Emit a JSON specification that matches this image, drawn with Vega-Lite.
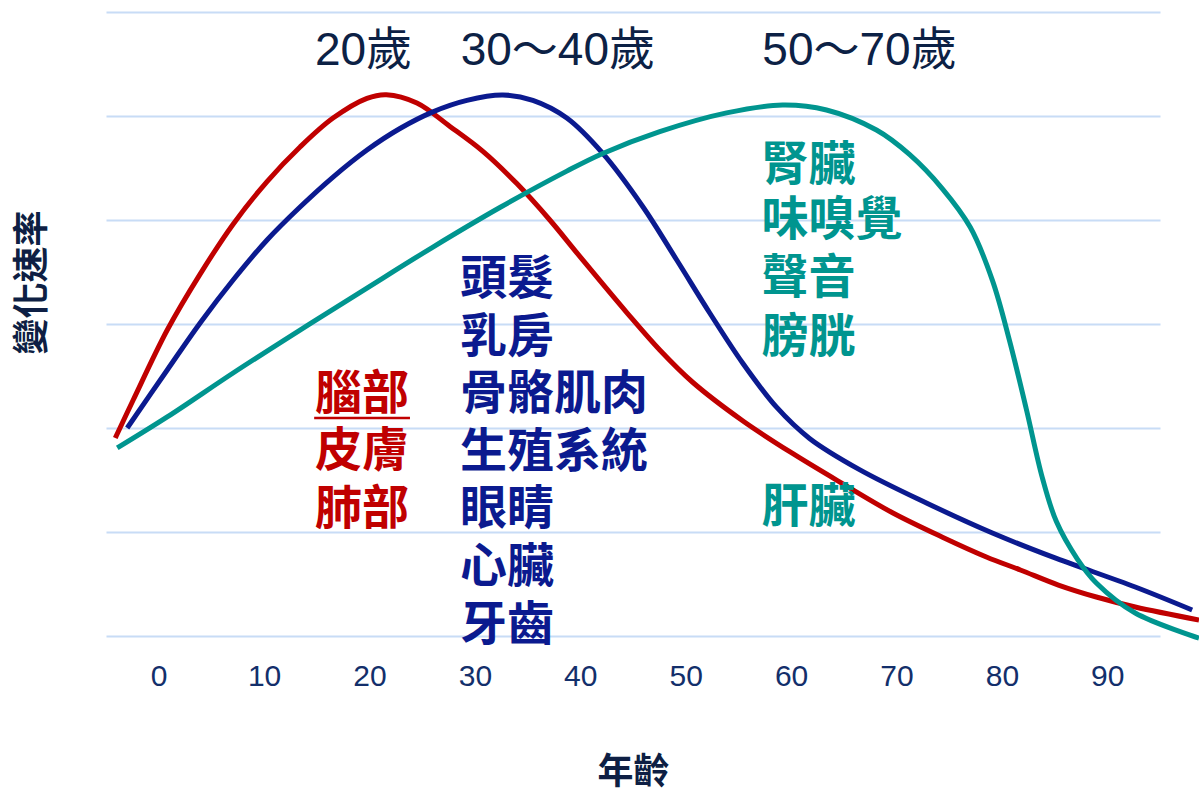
{
  "$schema": "https://vega.github.io/schema/vega-lite/v6.json",
  "width": 1054,
  "height": 624,
  "autosize": {"type": "none"},
  "padding": {"left": 106, "top": 12, "right": 39, "bottom": 152},
  "background": "white",
  "config": {"view": {"stroke": null}, "font": "Noto Sans CJK TC"},
  "datasets": {
    "curves": [
      {"group": "brain", "age": -4.12, "rate": 1.904},
      {"group": "brain", "age": -2.42, "rate": 2.269},
      {"group": "brain", "age": 0.81, "rate": 2.942},
      {"group": "brain", "age": 3.93, "rate": 3.48},
      {"group": "brain", "age": 7.06, "rate": 3.96},
      {"group": "brain", "age": 10.28, "rate": 4.37},
      {"group": "brain", "age": 13.41, "rate": 4.702},
      {"group": "brain", "age": 16.54, "rate": 4.98},
      {"group": "brain", "age": 19.76, "rate": 5.17},
      {"group": "brain", "age": 21.6, "rate": 5.205},
      {"group": "brain", "age": 24.5, "rate": 5.125},
      {"group": "brain", "age": 27.63, "rate": 4.9},
      {"group": "brain", "age": 30.76, "rate": 4.66},
      {"group": "brain", "age": 33.98, "rate": 4.35},
      {"group": "brain", "age": 37.11, "rate": 4.0},
      {"group": "brain", "age": 39.95, "rate": 3.65},
      {"group": "brain", "age": 44.41, "rate": 3.11},
      {"group": "brain", "age": 47.54, "rate": 2.75},
      {"group": "brain", "age": 50.66, "rate": 2.44},
      {"group": "brain", "age": 55.4, "rate": 2.07},
      {"group": "brain", "age": 60.14, "rate": 1.755},
      {"group": "brain", "age": 64.88, "rate": 1.465},
      {"group": "brain", "age": 69.62, "rate": 1.185},
      {"group": "brain", "age": 74.36, "rate": 0.95},
      {"group": "brain", "age": 78.53, "rate": 0.76},
      {"group": "brain", "age": 81.75, "rate": 0.635},
      {"group": "brain", "age": 85.36, "rate": 0.49},
      {"group": "brain", "age": 88.96, "rate": 0.375},
      {"group": "brain", "age": 92.65, "rate": 0.279},
      {"group": "brain", "age": 98.7, "rate": 0.154},
      {"group": "body", "age": -2.99, "rate": 2.0},
      {"group": "body", "age": 0.81, "rate": 2.558},
      {"group": "body", "age": 3.93, "rate": 3.01},
      {"group": "body", "age": 7.06, "rate": 3.423},
      {"group": "body", "age": 10.28, "rate": 3.808},
      {"group": "body", "age": 13.41, "rate": 4.125},
      {"group": "body", "age": 16.54, "rate": 4.413},
      {"group": "body", "age": 19.76, "rate": 4.673},
      {"group": "body", "age": 22.89, "rate": 4.88},
      {"group": "body", "age": 26.02, "rate": 5.04},
      {"group": "body", "age": 29.24, "rate": 5.15},
      {"group": "body", "age": 32.65, "rate": 5.202},
      {"group": "body", "age": 35.5, "rate": 5.15},
      {"group": "body", "age": 38.72, "rate": 4.98},
      {"group": "body", "age": 42.13, "rate": 4.64},
      {"group": "body", "age": 45.92, "rate": 4.13},
      {"group": "body", "age": 49.15, "rate": 3.615},
      {"group": "body", "age": 52.28, "rate": 3.106},
      {"group": "body", "age": 55.4, "rate": 2.625},
      {"group": "body", "age": 58.62, "rate": 2.2},
      {"group": "body", "age": 61.75, "rate": 1.9},
      {"group": "body", "age": 66.49, "rate": 1.6},
      {"group": "body", "age": 72.84, "rate": 1.279},
      {"group": "body", "age": 79.1, "rate": 0.99},
      {"group": "body", "age": 84.79, "rate": 0.76},
      {"group": "body", "age": 92.65, "rate": 0.471},
      {"group": "body", "age": 98.05, "rate": 0.25},
      {"group": "organ", "age": -3.93, "rate": 1.808},
      {"group": "organ", "age": 0.81, "rate": 2.106},
      {"group": "organ", "age": 7.06, "rate": 2.529},
      {"group": "organ", "age": 13.41, "rate": 2.942},
      {"group": "organ", "age": 19.76, "rate": 3.346},
      {"group": "organ", "age": 26.02, "rate": 3.74},
      {"group": "organ", "age": 32.37, "rate": 4.12},
      {"group": "organ", "age": 38.72, "rate": 4.47},
      {"group": "organ", "age": 42.13, "rate": 4.64},
      {"group": "organ", "age": 47.54, "rate": 4.85},
      {"group": "organ", "age": 53.88, "rate": 5.03},
      {"group": "organ", "age": 59.19, "rate": 5.106},
      {"group": "organ", "age": 63.36, "rate": 5.058},
      {"group": "organ", "age": 68.1, "rate": 4.865},
      {"group": "organ", "age": 71.23, "rate": 4.63},
      {"group": "organ", "age": 74.36, "rate": 4.3},
      {"group": "organ", "age": 77.0, "rate": 3.93},
      {"group": "organ", "age": 79.1, "rate": 3.42},
      {"group": "organ", "age": 80.71, "rate": 2.846},
      {"group": "organ", "age": 82.32, "rate": 2.18},
      {"group": "organ", "age": 83.84, "rate": 1.52},
      {"group": "organ", "age": 85.17, "rate": 1.1},
      {"group": "organ", "age": 87.16, "rate": 0.74},
      {"group": "organ", "age": 88.96, "rate": 0.51},
      {"group": "organ", "age": 92.65, "rate": 0.221},
      {"group": "organ", "age": 98.7, "rate": -0.02}
    ],
    "peaks": [
      {"text": "20歲", "age": 19.43, "rate": 5.49},
      {"text": "30～40歲", "age": 37.87, "rate": 5.49},
      {"text": "50～70歲", "age": 66.49, "rate": 5.49}
    ],
    "labels": [
      {"group": "brain", "text": "腦部", "age": 14.83, "rate": 2.317},
      {"group": "brain", "text": "皮膚", "age": 14.83, "rate": 1.769},
      {"group": "brain", "text": "肺部", "age": 14.83, "rate": 1.212},
      {"group": "body", "text": "頭髮", "age": 28.58, "rate": 3.423},
      {"group": "body", "text": "乳房", "age": 28.58, "rate": 2.865},
      {"group": "body", "text": "骨骼肌肉", "age": 28.58, "rate": 2.317},
      {"group": "body", "text": "生殖系統", "age": 28.58, "rate": 1.76},
      {"group": "body", "text": "眼睛", "age": 28.58, "rate": 1.212},
      {"group": "body", "text": "心臟", "age": 28.58, "rate": 0.654},
      {"group": "body", "text": "牙齒", "age": 28.58, "rate": 0.096},
      {"group": "organ", "text": "腎臟", "age": 57.2, "rate": 4.519},
      {"group": "organ", "text": "味嗅覺", "age": 57.2, "rate": 3.99},
      {"group": "organ", "text": "聲音", "age": 57.2, "rate": 3.433},
      {"group": "organ", "text": "膀胱", "age": 57.2, "rate": 2.865},
      {"group": "organ", "text": "肝臟", "age": 57.2, "rate": 1.231}
    ],
    "underline": [
      {"group": "brain", "age": 14.75, "age2": 23.84, "rate": 2.096}
    ]
  },
  "layer": [
    {
      "data": {"name": "curves"},
      "mark": {"type": "line", "interpolate": "catmull-rom", "strokeWidth": 5},
      "encoding": {
        "x": {
          "field": "age",
          "type": "quantitative",
          "scale": {"domain": [-5, 95], "nice": false, "zero": false},
          "axis": {
            "title": "年齡",
            "values": [0, 10, 20, 30, 40, 50, 60, 70, 80, 90],
            "grid": false,
            "domain": false,
            "ticks": false,
            "tickSize": 0,
            "labelPadding": 25,
            "labelFont": "Liberation Sans",
            "labelFontSize": 30,
            "labelColor": "#132f6b",
            "titleFont": "Noto Sans CJK TC",
            "titleFontSize": 36,
            "titleFontWeight": "bold",
            "titleColor": "#0e1f44",
            "titleBaseline": "alphabetic",
            "titleY": 147
          }
        },
        "y": {
          "field": "rate",
          "type": "quantitative",
          "scale": {"domain": [0, 6], "nice": false, "zero": false},
          "axis": {
            "title": "變化速率",
            "values": [0, 1, 2, 3, 4, 5, 6],
            "labels": false,
            "ticks": false,
            "domain": false,
            "grid": true,
            "gridColor": "#c8dcf6",
            "gridWidth": 2,
            "titleFont": "Noto Sans CJK TC",
            "titleFontSize": 36,
            "titleFontWeight": "bold",
            "titleColor": "#0e1f44",
            "titleAngle": -90,
            "titleBaseline": "middle",
            "titleAlign": "center",
            "titleX": -74,
            "titleY": 270
          }
        },
        "color": {
          "field": "group",
          "type": "nominal",
          "scale": {"domain": ["brain", "body", "organ"], "range": ["#c00000", "#0b1a8f", "#00958f"]},
          "legend": null
        }
      }
    },
    {
      "data": {"name": "underline"},
      "mark": {"type": "rule", "strokeWidth": 2.5},
      "encoding": {
        "x": {"field": "age", "type": "quantitative"},
        "x2": {"field": "age2"},
        "y": {"field": "rate", "type": "quantitative"},
        "color": {"field": "group", "type": "nominal", "legend": null}
      }
    },
    {
      "data": {"name": "labels"},
      "mark": {"type": "text", "align": "left", "baseline": "middle", "fontSize": 47, "fontWeight": "bold", "font": "Noto Sans CJK TC"},
      "encoding": {
        "x": {"field": "age", "type": "quantitative"},
        "y": {"field": "rate", "type": "quantitative"},
        "text": {"field": "text"},
        "color": {"field": "group", "type": "nominal", "legend": null}
      }
    },
    {
      "data": {"name": "peaks"},
      "mark": {"type": "text", "align": "center", "baseline": "alphabetic", "fontSize": 46, "fontWeight": "normal", "font": "Liberation Sans, Noto Sans CJK TC", "color": "#0c2145"},
      "encoding": {
        "x": {"field": "age", "type": "quantitative"},
        "y": {"field": "rate", "type": "quantitative"},
        "text": {"field": "text"}
      }
    }
  ]
}
